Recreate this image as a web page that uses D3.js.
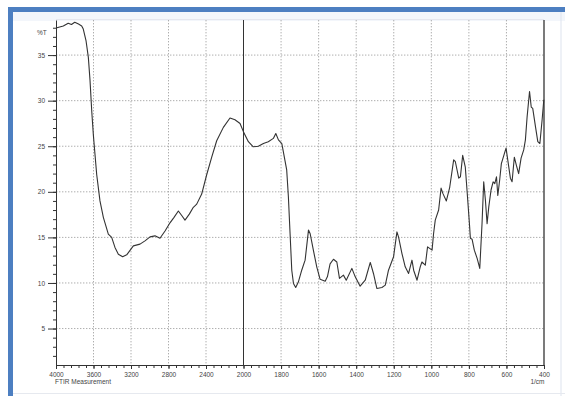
<!DOCTYPE html>
<html>
<head>
  <meta charset='utf-8' />
  <title>FTIR</title>
  <style>
    html, body { margin: 0; padding: 0; background: #fff; }
    body { width: 565px; height: 396px; overflow: hidden; }
    svg text { font-family: 'Liberation Sans', Arial, sans-serif; font-size: 6.5px; fill: #444; }
    .grid { stroke: #999; stroke-width: 0.8; stroke-dasharray: 1.4,1.6; }
    .axis path, .axis line { stroke: #333; }
    .spectrum { fill: none; stroke: #333; stroke-width: 1.1; stroke-linejoin: round; }
  </style>
</head>
<body>
<div id='chart'></div>
<script src="https://d3js.org/d3.v7.min.js"></script>
<script>
  // wavenumbers (1/cm) and transmittance (%T)
  const wavenumbers = [4000, 3922, 3870, 3835, 3800, 3760, 3726, 3709, 3680, 3655, 3637, 3619, 3602, 3584, 3566, 3531, 3495, 3442, 3406, 3371, 3335, 3289, 3246, 3175, 3104, 3051, 2997, 2944, 2891, 2837, 2784, 2741, 2695, 2659, 2624, 2578, 2535, 2499, 2446, 2392, 2339, 2286, 2215, 2144, 2091, 2037, 2001, 1974, 1948, 1921, 1894, 1868, 1841, 1828, 1814, 1796, 1788, 1770, 1761, 1752, 1743, 1734, 1722, 1708, 1690, 1672, 1654, 1645, 1628, 1610, 1592, 1565, 1553, 1539, 1521, 1503, 1489, 1468, 1453, 1423, 1405, 1379, 1352, 1325, 1308, 1290, 1263, 1245, 1228, 1201, 1183, 1174, 1156, 1139, 1121, 1103, 1094, 1076, 1059, 1050, 1032, 1020, 996, 988, 979, 961, 948, 938, 920, 902, 881, 872, 854, 845, 833, 819, 810, 797, 792, 783, 771, 756, 742, 730, 721, 712, 703, 694, 682, 671, 662, 653, 646, 636, 627, 611, 602, 593, 579, 570, 558, 547, 535, 522, 508, 499, 490, 477, 468, 460, 445, 433, 422, 410, 401]
  const transmittance = [37.97, 38.2, 38.5, 38.35, 38.6, 38.4, 38.2, 37.86, 36.6, 34.75, 32.2, 28.9, 26.3, 24.1, 21.9, 19.0, 17.2, 15.36, 15.0, 13.9, 13.16, 12.87, 13.09, 14.07, 14.26, 14.62, 15.06, 15.17, 14.9, 15.7, 16.6, 17.2, 17.9, 17.4, 16.9, 17.55, 18.3, 18.65, 19.75, 21.9, 23.8, 25.6, 27.07, 28.1, 27.9, 27.5, 26.6, 25.5, 24.94, 25.0, 25.3, 25.5, 25.86, 26.4, 25.7, 25.3, 24.4, 22.4, 19.45, 15.4, 11.4, 9.95, 9.5, 10.1, 11.4, 12.5, 15.8, 15.4, 13.6, 11.77, 10.4, 10.2, 10.7, 12.1, 12.6, 12.3, 10.5, 10.86, 10.3, 11.6, 10.67, 9.65, 10.3, 12.25, 11.04, 9.4, 9.5, 9.76, 11.4, 12.87, 15.6, 15.0, 13.2, 11.77, 11.04, 12.5, 11.4, 10.3, 11.77, 12.3, 11.95, 13.96, 13.6, 15.4, 16.9, 18.0, 20.4, 19.8, 19.0, 20.5, 23.5, 23.3, 21.5, 21.65, 24.0, 22.7, 20.2, 16.5, 14.9, 14.8, 13.6, 12.7, 11.6, 16.5, 21.1, 19.1, 16.5, 18.35, 20.2, 21.1, 20.9, 21.65, 19.6, 21.3, 23.1, 24.2, 24.8, 23.5, 21.5, 21.1, 23.8, 22.9, 22.0, 23.7, 24.6, 25.7, 28.2, 31.0, 29.3, 29.15, 27.1, 25.5, 25.3, 27.9, 30.1]

  const xLabels = [4000, 3600, 3200, 2800, 2400, 2000, 1800, 1600, 1400, 1200, 1000, 800, 600, 400]
  const yLabels = [5, 10, 15, 20, 25, 30, 35]

  const data = wavenumbers.map((w, i) => ({ w: w, t: transmittance[i] }))

  const svg = d3.select('#chart').append('svg')
    .attr('width', 565)
    .attr('height', 396)

  // blue frame of the screenshot
  svg.append('rect').attr('x', 13).attr('y', 12).attr('width', 552).attr('height', 9).style('fill', '#f3f6fb')
  svg.append('rect').attr('x', 8).attr('y', 7).attr('width', 557).attr('height', 5).style('fill', '#4d7fc1')
  svg.append('rect').attr('x', 8).attr('y', 7).attr('width', 5).attr('height', 389).style('fill', '#4d7fc1')
  svg.append('line').attr('x1', 561).attr('x2', 561).attr('y1', 12).attr('y2', 396).style('stroke', '#dde3ee')
  svg.append('line').attr('x1', 13).attr('x2', 565).attr('y1', 393.5).attr('y2', 393.5).style('stroke', '#e6e9ef')

  // split scale: 4000-2000 compressed, 2000-400 expanded
  const x = d3.scaleLinear()
    .domain([4000, 2000, 400])
    .range([56, 243.5, 544])

  const y = d3.scaleLinear()
    .domain([1, 38.85])
    .range([365, 20])

  const plotTop = y.range()[1]
  const plotBottom = y.range()[0]

  svg.append('line')
    .attr('x1', 56).attr('x2', 544).attr('y1', plotTop - 0.5).attr('y2', plotTop - 0.5)
    .style('stroke', '#e4e6ee')

  // grid
  svg.append('g').selectAll('line')
    .data(yLabels)
    .join('line')
    .attr('class', 'grid')
    .attr('x1', x(4000)).attr('x2', x(400))
    .attr('y1', d => y(d)).attr('y2', d => y(d))

  svg.append('g').selectAll('line')
    .data(xLabels.filter(d => d !== 4000 && d !== 2000 && d !== 400))
    .join('line')
    .attr('class', 'grid')
    .attr('x1', d => x(d)).attr('x2', d => x(d))
    .attr('y1', plotTop).attr('y2', plotBottom)

  // solid markers at 2000 and at the right edge
  svg.append('g').selectAll('line')
    .data([2000, 400])
    .join('line')
    .attr('x1', d => x(d)).attr('x2', d => x(d))
    .attr('y1', plotTop).attr('y2', plotBottom)
    .style('stroke', '#333')
    .style('stroke-width', d => d === 400 ? 1.3 : 1)

  // minor ticks
  const xMinor = d3.range(4000, 2000, -80).concat(d3.range(2000, 399, -40))
  const yMinor = d3.range(2, 39, 1)

  svg.append('g')
    .attr('class', 'axis')
    .attr('transform', `translate(0,${plotBottom})`)
    .call(d3.axisBottom(x).tickValues(xMinor).tickSize(3).tickFormat(''))
    .call(g => g.select('.domain').remove())

  svg.append('g')
    .attr('class', 'axis')
    .attr('transform', `translate(${x(4000)},0)`)
    .call(d3.axisLeft(y).tickValues(yMinor).tickSize(3).tickFormat(''))
    .call(g => g.select('.domain').remove())

  // major axes
  svg.append('g')
    .attr('class', 'axis')
    .attr('transform', `translate(0,${plotBottom})`)
    .call(d3.axisBottom(x).tickValues(xLabels).tickFormat(d3.format('d')).tickSize(4).tickPadding(3).tickSizeOuter(0))
    .call(g => g.selectAll('text').style('font-size', '6.5px').style('fill', '#444'))

  svg.append('g')
    .attr('class', 'axis')
    .attr('transform', `translate(${x(4000)},0)`)
    .call(d3.axisLeft(y).tickValues(yLabels).tickSize(8).tickPadding(3).tickSizeOuter(0))
    .call(g => g.selectAll('text').style('font-size', '6.5px').style('fill', '#444'))

  svg.append('text')
    .attr('x', 37).attr('y', 35)
    .text('%T')

  svg.append('text')
    .attr('x', 55).attr('y', 384)
    .text('FTIR Measurement')

  svg.append('text')
    .attr('x', 537.5).attr('y', 384)
    .attr('text-anchor', 'middle')
    .text('1/cm')

  // spectrum
  const line = d3.line()
    .x(d => x(d.w))
    .y(d => y(d.t))

  svg.append('path')
    .datum(data)
    .attr('class', 'spectrum')
    .attr('d', line)
</script>
</body>
</html>
